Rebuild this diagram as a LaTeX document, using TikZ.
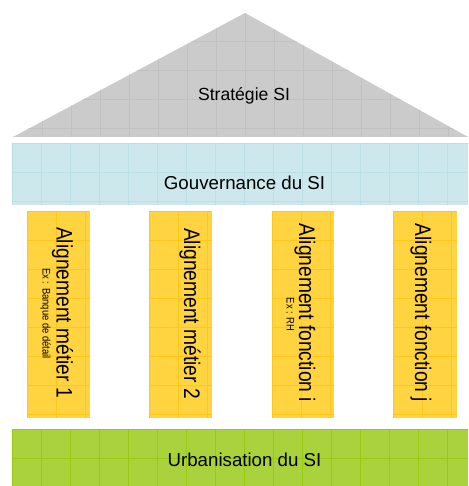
\documentclass[tikz,border=0pt]{standalone}
\usepackage{fontspec}
\setmainfont{Liberation Sans}
\usetikzlibrary{%
  positioning,%
  calc%
}

\definecolor{gristoit}{RGB}{203,203,203}
\definecolor{gristrait}{RGB}{193,193,193}
\definecolor{bleugouv}{RGB}{204,232,236}
\definecolor{bleutrait}{RGB}{187,224,229}
\definecolor{jaunepil}{RGB}{255,212,64}
\definecolor{jaunetrait}{RGB}{253,200,25}
\definecolor{vertsocle}{RGB}{170,210,60}
\definecolor{verttrait}{RGB}{152,202,15}

\begin{document}
\begin{tikzpicture}
  [x=1pt, y=1pt, line width=0.7pt,
   titre/.style={anchor=base, inner sep=0pt, font=\fontsize{18.7}{22}\selectfont},
   pilier/.style={anchor=base, rotate=-90, inner sep=0pt, font=\fontsize{19.2}{23}\selectfont},
   note/.style={anchor=base, rotate=-90, inner sep=0pt, font=\fontsize{9.4}{11}\selectfont}]

\useasboundingbox (0,0) rectangle (468,486);

\fill[gristoit] (13,349) -- (245,473) -- (468,349) -- cycle;
\begin{scope}
\clip (13,349) -- (245,473) -- (468,349) -- cycle;
\draw[draw=gristrait,shift={(13,474)},step=29] (0,0) grid (455,-125);
\end{scope}

\fill[bleugouv] (12,281) rectangle (468,343);
\begin{scope}
\clip (12,281) rectangle (468,343);
\draw[draw=bleutrait,shift={(12,343)},step=29] (0,0) grid (456,-62);
\end{scope}

\fill[jaunepil] (27,68) rectangle (90,275);
\begin{scope}
\clip (27,68) rectangle (90,275);
\draw[draw=jaunetrait,shift={(27,275)},step=29] (0,0) grid (63,-207);
\end{scope}

\fill[jaunepil] (149,68) rectangle (212,275);
\begin{scope}
\clip (149,68) rectangle (212,275);
\draw[draw=jaunetrait,shift={(149,275)},step=29] (0,0) grid (63,-207);
\end{scope}

\fill[jaunepil] (272,68) rectangle (334,275);
\begin{scope}
\clip (272,68) rectangle (334,275);
\draw[draw=jaunetrait,shift={(272,275)},step=29] (0,0) grid (62,-207);
\end{scope}

\fill[jaunepil] (393,68) rectangle (457,275);
\begin{scope}
\clip (393,68) rectangle (457,275);
\draw[draw=jaunetrait,shift={(393,275)},step=29] (0,0) grid (64,-207);
\end{scope}

\fill[vertsocle] (12,0) rectangle (468,57);
\begin{scope}
\clip (12,0) rectangle (468,57);
\draw[draw=verttrait,shift={(12,57)},step=29] (0,0) grid (456,-57);
\end{scope}

\node[titre,font=\fontsize{17.6}{21}\selectfont] (strat) at (244,385) {Stratégie SI};
\node[titre] (gouv) at (244.5,296) {Gouvernance du SI};
\node[titre] (urba) at (244.5,19) {Urbanisation du SI};

\node[pilier] (metier1) at (56.7,173.5) {\scalebox{1}[1.17]{Alignement métier 1}};
\node[note] (ex1) at (42.7,172.5) {\scalebox{1}[1.17]{Ex : Banque de détail}};
\node[pilier] (metier2) at (184,172.5) {\scalebox{1}[1.17]{Alignement métier 2}};
\node[pilier] (fonctioni) at (299,173) {\scalebox{1}[1.17]{Alignement fonction i}};
\node[note] (ex3) at (286.7,171.5) {\scalebox{1}[1.17]{Ex : RH}};
\node[pilier] (fonctionj) at (415,173) {\scalebox{1}[1.17]{Alignement fonction j}};
\end{tikzpicture}
\end{document}
